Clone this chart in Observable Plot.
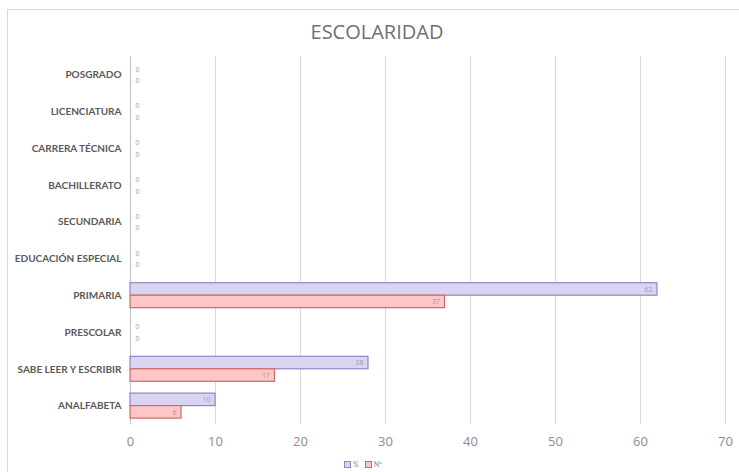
<!DOCTYPE html>
<html>
<head>
<meta charset="utf-8">
<script src="https://cdn.jsdelivr.net/npm/d3@7"></script>
<script src="https://cdn.jsdelivr.net/npm/@observablehq/plot@0.6"></script>
<style>
  body { margin: 0; background: #fff; }
  #wrap { position: relative; width: 739px; height: 472px; overflow: hidden; font-family: Lato, "Open Sans", sans-serif; }
  #frame { position: absolute; left: 7px; top: 9px; width: 760px; height: 480px; border: 1px solid #d9d9d9; box-sizing: border-box; }
  #title { position: absolute; left: 0; top: 18px; width: 754px; text-align: center; font-family: "Open Sans", sans-serif; font-size: 20px; color: #707070; }
  #chart { position: absolute; left: 0; top: 46px; }
  #legend { position: absolute; left: 0; top: 460px; width: 726px; text-align: center; font-size: 7px; color: #8c8c8c; line-height: 8px; }
  #legend span.sw { display: inline-block; width: 5px; height: 5px; vertical-align: -1px; margin-right: 2px; }
  #legend span.item { margin: 0 3px; }
</style>
</head>
<body>
<div id="wrap">
  <div id="frame"></div>
  <div id="title">ESCOLARIDAD</div>
  <div id="chart"></div>
  <div id="legend"></div>
</div>
<script>
// Education levels, top to bottom
const categories = [
  "POSGRADO",
  "LICENCIATURA",
  "CARRERA TÉCNICA",
  "BACHILLERATO",
  "SECUNDARIA",
  "EDUCACIÓN ESPECIAL",
  "PRIMARIA",
  "PRESCOLAR",
  "SABE LEER Y ESCRIBIR",
  "ANALFABETA"
];
const seriesNames = ["%", "Nº"];
const pctValues   = [0, 0, 0, 0, 0, 0, 62, 0, 28, 10];
const countValues = [0, 0, 0, 0, 0, 0, 37, 0, 17, 6];
const xTicks = [0, 10, 20, 30, 40, 50, 60, 70];

const colors = {
  "%":  {fill: "#dbd3f2", stroke: "#9384c4", text: "#a49cbf"},
  "Nº": {fill: "#ffc6c6", stroke: "#d06868", text: "#b39494"}
};

const rows = [];
categories.forEach((c, i) => {
  rows.push({cat: c, series: seriesNames[0], value: pctValues[i]});
  rows.push({cat: c, series: seriesNames[1], value: countValues[i]});
});
const pctRows = rows.filter(d => d.series === "%");
const cntRows = rows.filter(d => d.series === "Nº");

const band = 368 / categories.length;
const barH = 12.5;
const half = band / 2;

const chart = Plot.plot({
  width: 739,
  height: 410,
  marginLeft: 130,
  marginRight: 14,
  marginTop: 10,
  marginBottom: 32,
  style: {background: "transparent", overflow: "visible"},
  x: {domain: [0, 70]},
  y: {domain: categories, padding: 0, round: false, label: null},
  marks: [
    Plot.gridX(xTicks, {stroke: "#d9d9d9", strokeOpacity: 1}),
    Plot.axisX(xTicks, {tickSize: 0, tickPadding: 12, fontSize: 13, fill: "#8c8c8c", label: null, fontFamily: "Open Sans, sans-serif"}),
    Plot.axisY({tickSize: 0, tickPadding: 9, fontSize: 10, fontWeight: "bold", fill: "#595959", label: null, fontFamily: "Lato, sans-serif"}),
    Plot.ruleX([0], {stroke: "#bfbfbf"}),
    Plot.barX(pctRows.filter(d => d.value > 0), {
      x: "value", y: "cat",
      insetTop: half - barH, insetBottom: half,
      fill: colors["%"].fill, stroke: colors["%"].stroke, strokeWidth: 1.2
    }),
    Plot.barX(cntRows.filter(d => d.value > 0), {
      x: "value", y: "cat",
      insetTop: half, insetBottom: half - barH,
      fill: colors["Nº"].fill, stroke: colors["Nº"].stroke, strokeWidth: 1.2
    }),
    // value labels inside the bar ends
    Plot.text(pctRows.filter(d => d.value > 0), {
      x: "value", y: "cat", text: d => String(d.value), dx: -5, dy: -barH / 2,
      textAnchor: "end", fontSize: 7, fill: colors["%"].text
    }),
    Plot.text(cntRows.filter(d => d.value > 0), {
      x: "value", y: "cat", text: d => String(d.value), dx: -5, dy: barH / 2,
      textAnchor: "end", fontSize: 7, fill: colors["Nº"].text
    }),
    // zero labels next to the axis
    Plot.text(pctRows.filter(d => d.value === 0), {
      x: "value", y: "cat", text: d => String(d.value), dx: 7, dy: -5.5,
      fontSize: 7, fill: "#a6a6a6"
    }),
    Plot.text(cntRows.filter(d => d.value === 0), {
      x: "value", y: "cat", text: d => String(d.value), dx: 7, dy: 6,
      fontSize: 7, fill: "#a6a6a6"
    })
  ]
});
document.getElementById("chart").appendChild(chart);

const legend = document.getElementById("legend");
seriesNames.forEach(s => {
  const item = document.createElement("span");
  item.className = "item";
  const sw = document.createElement("span");
  sw.className = "sw";
  sw.style.background = colors[s].fill;
  sw.style.border = "1px solid " + colors[s].stroke;
  item.appendChild(sw);
  item.appendChild(document.createTextNode(s));
  legend.appendChild(item);
});
</script>
</body>
</html>
